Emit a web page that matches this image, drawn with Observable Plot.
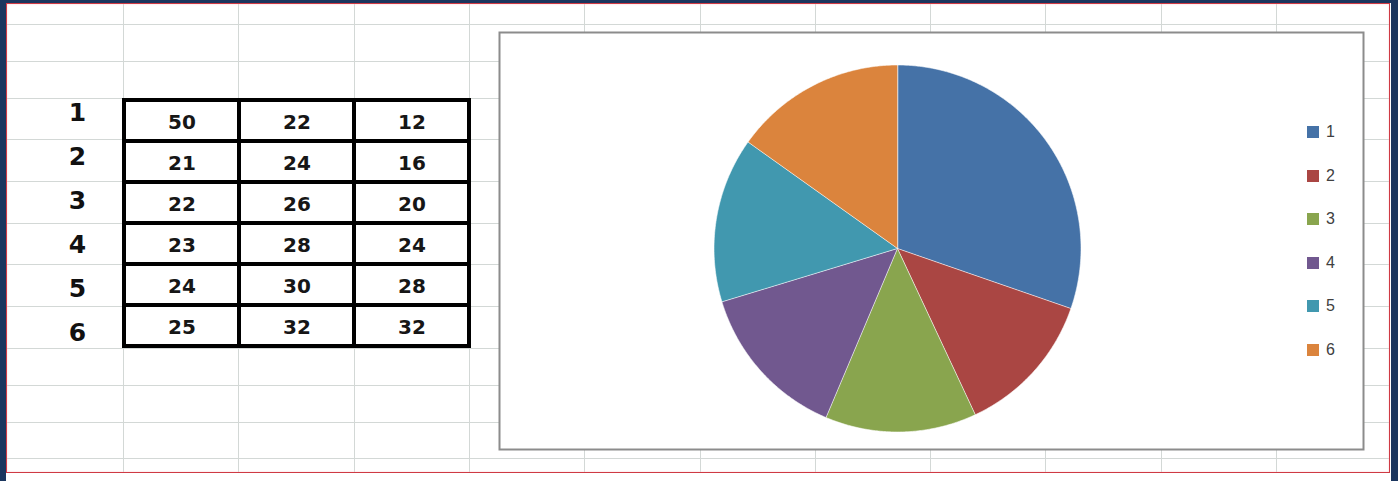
<!DOCTYPE html>
<html><head><meta charset="utf-8">
<script src="https://cdn.jsdelivr.net/npm/d3@7"></script>
<script src="https://cdn.jsdelivr.net/npm/@observablehq/plot@0.6"></script>
<style>
html,body{margin:0;padding:0;background:#fff;}
#page{position:relative;width:1398px;height:481px;overflow:hidden;background:#fff;font-family:"DejaVu Sans",sans-serif;}
.gv{position:absolute;top:4px;width:1px;height:468px;background:#d3d8d6;}
.gh{position:absolute;left:7px;height:1px;width:1382px;background:#d3d8d6;}
</style></head><body><div id="page"></div>
<script>
// ---- data ----
const rowLabels = ["1", "2", "3", "4", "5", "6"];
const columnKeys = ["A", "B", "C"];
const colA = [50, 21, 22, 23, 24, 25];
const colB = [22, 24, 26, 28, 30, 32];
const colC = [12, 16, 20, 24, 28, 32];
const pieValues = colA;            // the pie shows the first column
const sliceColors = ["#4572A7", "#AA4643", "#89A54E", "#71588F", "#4198AF", "#DB843D"];

const page = document.getElementById("page");
function place(el, left, top) {
  el.style.position = "absolute"; el.style.left = left + "px"; el.style.top = top + "px";
  page.appendChild(el); return el;
}
function div(cls, css) { const d = document.createElement("div"); if (cls) d.className = cls; Object.assign(d.style, css); page.appendChild(d); return d; }

// ---- spreadsheet background (decoration) ----
for (let k = 0; k <= 10; k++) div("gv", {left: (123 + k * 115.3).toFixed(1) + "px"});
[24, 61, 98, 139, 181, 223, 264, 306, 348, 385, 422, 458].forEach(y => div("gh", {top: y + "px"}));
div("", {position:"absolute", left:"6px", top:"3px", width:"1384px", height:"470px", border:"1px solid #cf3a44", boxSizing:"border-box", boxShadow:"inset 0 0 2px #f6c9cc"});
div("", {position:"absolute", left:"0", top:"0", width:"6px", height:"481px", background:"#1b365e"});
div("", {position:"absolute", left:"0", top:"0", width:"1398px", height:"3px", background:"#1b365e"});
div("", {position:"absolute", left:"1391px", top:"0", width:"7px", height:"481px", background:"#1b365e"});

// ---- table ----
const colValues = [colA, colB, colC];
const tableCells = rowLabels.flatMap((r, i) => columnKeys.map((c, j) => ({row: r, col: c, value: colValues[j][i]})));

const table = Plot.plot({
  width: 353, height: 256, margin: 3,
  x: {type: "band", domain: columnKeys, axis: null, padding: 0},
  y: {type: "band", domain: rowLabels, axis: null, padding: 0},
  style: {background: "transparent", fontFamily: "DejaVu Sans", overflow: "visible"},
  marks: [
    Plot.cell(tableCells, {x: "col", y: "row", fill: "white", stroke: "#000", strokeWidth: 4, inset: 0}),
    Plot.text(tableCells, {x: "col", y: "row", text: "value", fontSize: 20, fontWeight: "bold", fill: "#161616", dy: 2})
  ]
});
place(table, 120, 95);

const labels = Plot.plot({
  width: 44, height: 268, margin: 0,
  y: {type: "band", domain: rowLabels, axis: null, padding: 0},
  style: {background: "transparent", fontFamily: "DejaVu Sans", overflow: "visible"},
  marks: [
    Plot.text(rowLabels, {y: d => d, text: d => d, frameAnchor: "middle", fontSize: 25, fontWeight: "bold", fill: "#111"})
  ]
});
place(labels, 55, 88);

// ---- pie ----
const pieData = rowLabels.map((k, i) => ({key: k, value: pieValues[i]}));
const arcs = d3.pie().sort(null).value(d => d.value)(pieData);
const piePoints = arcs.flatMap(a => {
  const pts = [{key: a.data.key, x: 0, y: 0}];
  const n = Math.max(2, Math.ceil((a.endAngle - a.startAngle) / (Math.PI / 360)));
  for (let i = 0; i <= n; i++) {
    const t = a.startAngle + (a.endAngle - a.startAngle) * i / n;
    pts.push({key: a.data.key, x: Math.sin(t), y: Math.cos(t)});
  }
  return pts;
});

const chart = Plot.plot({
  width: 866, height: 419, margin: 1,
  x: {domain: [-1, 1], range: [215.5, 582.5], axis: null},
  y: {domain: [-1, 1], range: [400.5, 33.5], axis: null},
  color: {domain: rowLabels, range: sliceColors},
  style: {background: "transparent", overflow: "visible"},
  marks: [
    Plot.frame({fill: "white", stroke: "#8c8c8c", strokeWidth: 2}),
    Plot.line(piePoints, {x: "x", y: "y", z: "key", fill: "key", stroke: "#ffffff", strokeOpacity: 0.7, strokeWidth: 0.8, curve: "linear-closed"})
  ]
});
place(chart, 498, 31);

// ---- legend (HTML, from the chart's color scale) ----
const colorScale = chart.scale("color");
colorScale.domain.forEach((k, i) => {
  const item = document.createElement("div");
  Object.assign(item.style, {display: "flex", alignItems: "center", height: "20px", font: "16px 'Liberation Sans', Arial, sans-serif", color: "#404040"});
  const sw = document.createElement("span");
  Object.assign(sw.style, {display: "inline-block", width: "12px", height: "12px", background: colorScale.range[i], marginRight: "7px"});
  const tx = document.createElement("span");
  tx.textContent = k;
  item.appendChild(sw); item.appendChild(tx);
  place(item, 1307, 122 + i * 43.6);
});
</script></body></html>
